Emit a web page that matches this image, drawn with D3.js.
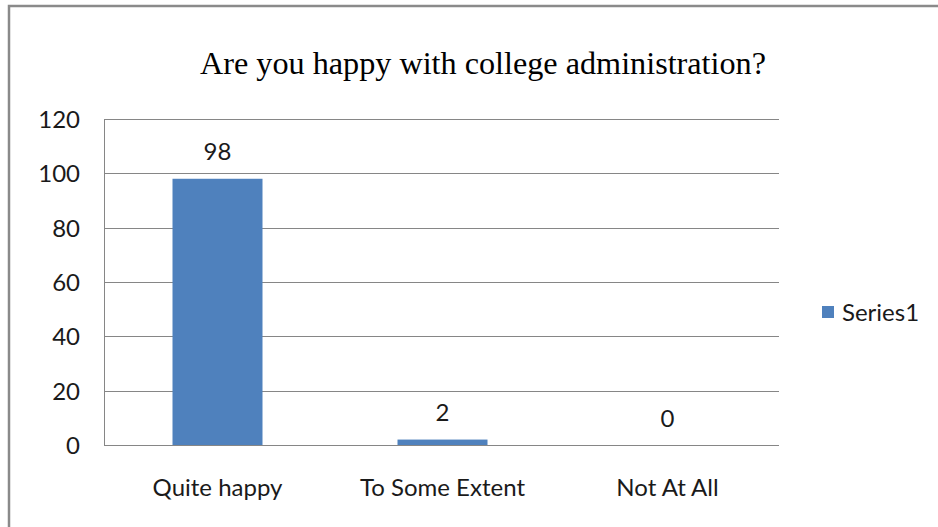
<!DOCTYPE html>
<html>
<head>
<meta charset="utf-8">
<script src="https://cdn.jsdelivr.net/npm/d3@7"></script>
<style>
html,body{margin:0;padding:0;background:#fff;overflow:hidden;}
svg{display:block;}
</style>
</head>
<body>
<div id="chart"></div>
<script>
const categories = ["Quite happy", "To Some Extent", "Not At All"];
const values = [98, 2, 0];
const yTicks = [0, 20, 40, 60, 80, 100, 120];
const seriesName = "Series1";
const titleText = "Are you happy with college administration?";

const W = 938, H = 527;
const plot = {left: 104, right: 779, top: 119, bottom: 445};
const barColor = "#4F81BD";
const gridColor = "#868686";
const labelFont = "Lato, 'Open Sans', sans-serif";
const labelSize = 24;

const svg = d3.select("#chart").append("svg")
  .attr("width", W).attr("height", H);

svg.append("rect").attr("width", W).attr("height", H).attr("fill", "#fff");

// outer chart border
svg.append("rect")
  .attr("x", 9).attr("y", 6)
  .attr("width", W + 20).attr("height", H + 20)
  .attr("fill", "none").attr("stroke", "#8a8a8a").attr("stroke-width", 2.5);

const x = d3.scaleBand().domain(categories).range([plot.left, plot.right]).paddingInner(0.6).paddingOuter(0.3);
const y = d3.scaleLinear().domain([0, 120]).range([plot.bottom, plot.top]);

// gridlines
svg.append("g").selectAll("line").data(yTicks).join("line")
  .attr("x1", plot.left).attr("x2", plot.right)
  .attr("y1", d => Math.round(y(d)) + 0.5).attr("y2", d => Math.round(y(d)) + 0.5)
  .attr("stroke", gridColor).attr("stroke-width", 1);

// y axis line
svg.append("line")
  .attr("x1", plot.left + 0.5).attr("x2", plot.left + 0.5)
  .attr("y1", plot.top).attr("y2", plot.bottom + 0.5)
  .attr("stroke", gridColor).attr("stroke-width", 1);

// y axis via d3
const yAxis = d3.axisLeft(y).tickValues(yTicks).tickSize(0).tickPadding(24);
const yg = svg.append("g").attr("transform", `translate(${plot.left},0)`).call(yAxis);
yg.select(".domain").remove();
yg.selectAll("text").attr("font-family", labelFont).attr("font-size", labelSize).attr("fill", "#1a1a1a").attr("dy", "0.36em");

// bars
svg.append("g").selectAll("rect").data(values).join("rect")
  .attr("x", (d, i) => x(categories[i]) + 1)
  .attr("width", x.bandwidth())
  .attr("y", d => y(d))
  .attr("height", d => y(0) - y(d))
  .attr("fill", barColor);

// value labels
svg.append("g").selectAll("text").data(values).join("text")
  .attr("x", (d, i) => x(categories[i]) + x.bandwidth() / 2 + 1)
  .attr("y", d => y(d) - 27)
  .attr("dy", "0.36em")
  .attr("text-anchor", "middle")
  .attr("font-family", labelFont).attr("font-size", labelSize).attr("fill", "#1a1a1a")
  .text(d => d);

// x axis labels
const xAxis = d3.axisBottom(x).tickSize(0).tickPadding(0);
const xg = svg.append("g").attr("transform", `translate(1,${plot.bottom})`).call(xAxis);
xg.select(".domain").remove();
xg.selectAll("text").attr("font-family", labelFont).attr("font-size", labelSize).attr("fill", "#1a1a1a")
  .attr("y", 42).attr("dy", "0.36em");

// title
svg.append("text")
  .attr("x", 483).attr("y", 74)
  .attr("text-anchor", "middle")
  .attr("font-family", "'Liberation Serif', 'Times New Roman', serif")
  .attr("font-size", 31).attr("fill", "#000")
  .attr("textLength", 566).attr("lengthAdjust", "spacingAndGlyphs")
  .text(titleText);

// legend
const lg = svg.append("g").attr("transform", "translate(822,306)");
lg.append("rect").attr("width", 12).attr("height", 12).attr("fill", barColor);
lg.append("text").attr("x", 20).attr("y", 6).attr("dy", "0.36em")
  .attr("font-family", labelFont).attr("font-size", labelSize).attr("fill", "#1a1a1a")
  .text(seriesName);
</script>
</body>
</html>
